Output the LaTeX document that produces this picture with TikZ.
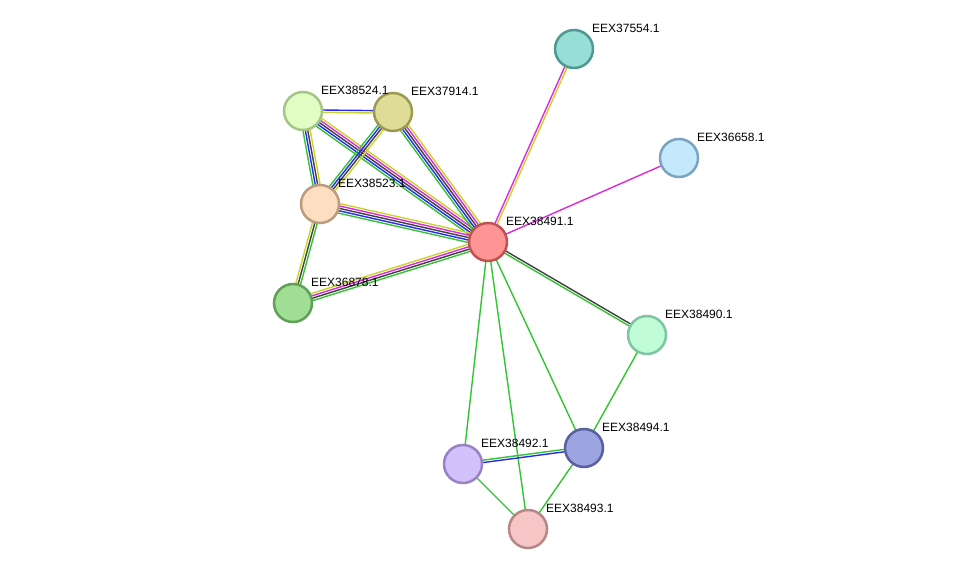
\documentclass[tikz,border=0pt]{standalone}
\usepackage{fontspec}
\setmainfont{Liberation Sans}
\usetikzlibrary{calc,backgrounds}

% evidence colours
\definecolor{tmyel}{RGB}{200,212,40}
\definecolor{expmag}{RGB}{222,40,222}
\definecolor{coexp}{RGB}{64,64,64}
\definecolor{cooc}{RGB}{40,40,250}
\definecolor{nbgrn}{RGB}{50,196,50}

\tikzset{
  prot/.style={circle, minimum size=38pt, inner sep=0pt, line width=2.5pt},
  lbl/.style={anchor=west, inner sep=0pt, xshift=18pt, yshift=21pt, font=\fontsize{12}{14}\selectfont},
  link/.style={line width=1.4pt},
}

% #1 from, #2 to, #3 number of lines, #4 colours
\newcommand{\multilink}[4]{%
  \foreach \col [count=\k] in {#4}{%
    \pgfmathsetlengthmacro{\off}{(\k-(#3+1)/2)*2.4pt}%
    \draw[link, draw=\col] ($(#1)!\off!90:(#2)$) -- ($(#2)!\off!-90:(#1)$);
  }}

\begin{document}
\begin{tikzpicture}[x=1pt, y=-1pt]
\useasboundingbox (0,0) rectangle (976,575);

\node[prot, fill={rgb,255:red,255;green,148;blue,148}, draw={rgb,255:red,192;green,82;blue,82}] (p38491) at (488,242) {};
\node[prot, fill={rgb,255:red,150;green,222;blue,214}, draw={rgb,255:red,80;green,152;blue,146}] (p37554) at (574,49) {};
\node[prot, fill={rgb,255:red,196;green,232;blue,252}, draw={rgb,255:red,124;green,164;blue,192}] (p36658) at (679,158) {};
\node[prot, fill={rgb,255:red,226;green,252;blue,196}, draw={rgb,255:red,164;green,196;blue,136}] (p38524) at (303,111) {};
\node[prot, fill={rgb,255:red,222;green,220;blue,150}, draw={rgb,255:red,156;green,154;blue,82}] (p37914) at (393,112) {};
\node[prot, fill={rgb,255:red,254;green,222;blue,192}, draw={rgb,255:red,188;green,156;blue,124}] (p38523) at (320,204) {};
\node[prot, fill={rgb,255:red,160;green,222;blue,150}, draw={rgb,255:red,96;green,160;blue,86}] (p36878) at (293,303) {};
\node[prot, fill={rgb,255:red,192;green,252;blue,216}, draw={rgb,255:red,128;green,196;blue,160}] (p38490) at (647,335) {};
\node[prot, fill={rgb,255:red,156;green,164;blue,224}, draw={rgb,255:red,88;green,96;blue,160}] (p38494) at (584,448) {};
\node[prot, fill={rgb,255:red,210;green,194;blue,252}, draw={rgb,255:red,150;green,130;blue,196}] (p38492) at (463,464) {};
\node[prot, fill={rgb,255:red,246;green,198;blue,198}, draw={rgb,255:red,184;green,134;blue,134}] (p38493) at (528,529) {};

\node[lbl] (l38491) at (p38491) {EEX38491.1};
\node[lbl] (l37554) at (p37554) {EEX37554.1};
\node[lbl] (l36658) at (p36658) {EEX36658.1};
\node[lbl] (l38524) at (p38524) {EEX38524.1};
\node[lbl] (l37914) at (p37914) {EEX37914.1};
\node[lbl] (l38523) at (p38523) {EEX38523.1};
\node[lbl] (l36878) at (p36878) {EEX36878.1};
\node[lbl] (l38490) at (p38490) {EEX38490.1};
\node[lbl] (l38494) at (p38494) {EEX38494.1};
\node[lbl] (l38492) at (p38492) {EEX38492.1};
\node[lbl] (l38493) at (p38493) {EEX38493.1};

\begin{pgfonlayer}{background}
\multilink{p38524}{p37914}{2}{tmyel,cooc}
\multilink{p38524}{p38523}{4}{nbgrn,cooc,coexp,tmyel}
\multilink{p38524}{p38491}{5}{nbgrn,cooc,coexp,expmag,tmyel}
\multilink{p37914}{p38523}{4}{nbgrn,cooc,coexp,tmyel}
\multilink{p37914}{p38491}{5}{nbgrn,cooc,coexp,expmag,tmyel}
\multilink{p38523}{p38491}{5}{nbgrn,cooc,coexp,expmag,tmyel}
\multilink{p38523}{p36878}{3}{tmyel,coexp,nbgrn}
\multilink{p36878}{p38491}{4}{nbgrn,coexp,expmag,tmyel}
\multilink{p38491}{p37554}{2}{tmyel,expmag}
\multilink{p38491}{p36658}{1}{expmag}
\multilink{p38491}{p38490}{2}{nbgrn,coexp}
\multilink{p38491}{p38492}{1}{nbgrn}
\multilink{p38491}{p38493}{1}{nbgrn}
\multilink{p38491}{p38494}{1}{nbgrn}
\multilink{p38490}{p38494}{1}{nbgrn}
\multilink{p38492}{p38494}{2}{cooc,nbgrn}
\multilink{p38492}{p38493}{1}{nbgrn}
\multilink{p38494}{p38493}{1}{nbgrn}
\end{pgfonlayer}
\end{tikzpicture}
\end{document}
